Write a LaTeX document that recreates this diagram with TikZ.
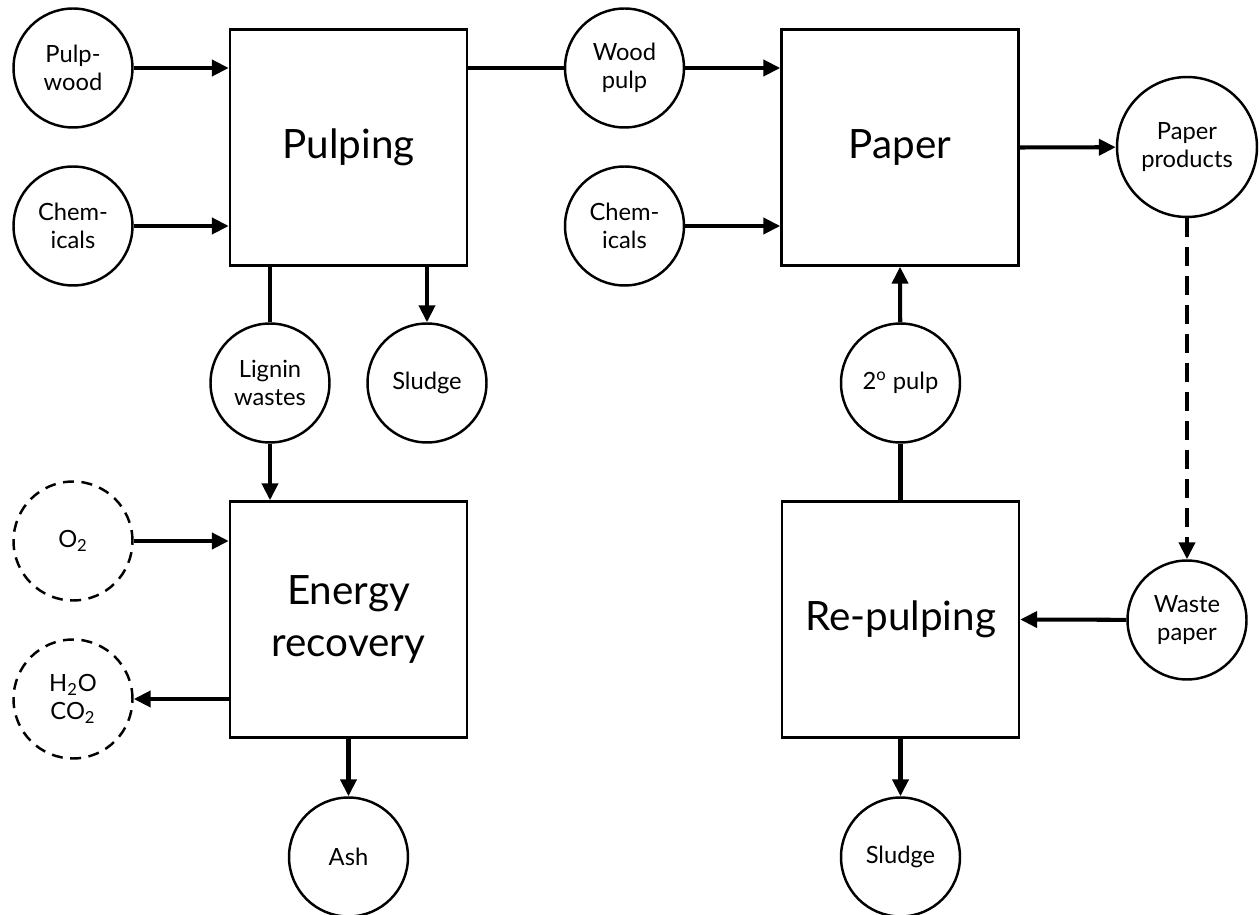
\documentclass[tikz,border=0pt]{standalone}
\usepackage{fontspec}
\setmainfont{Lato}
\usetikzlibrary{arrows.meta}

\tikzset{
  procbox/.style={draw, line width=1.4pt, minimum width=4.74cm, minimum height=4.72cm,
    inner sep=0pt, font=\fontsize{23}{30}\selectfont, align=center},
  stream/.style={draw, circle, line width=1.4pt, minimum size=2.38cm, inner sep=0pt,
    font=\fontsize{13.5}{16}\selectfont, align=center},
  gasstream/.style={stream, dash pattern=on 0.22cm off 0.15cm},
  link/.style={line width=2.3pt},
  flow/.style={link, -{Triangle[length=0.34cm,width=0.32cm]}},
}

\begin{document}
\begin{tikzpicture}[x=0.02cm, y=-0.02cm]
  \useasboundingbox (0,0) rectangle (1259,915);

  % process boxes
  \node[procbox] (pulping) at (348.5,147.5) {Pulping};
  \node[procbox] (paper)   at (900,147.5) {Paper};
  \node[procbox] (energy)  at (348.5,619.5) {Energy\\recovery};
  \node[procbox] (repulp)  at (900.5,619.5) {Re-pulping};

  % streams
  \node[stream] (pulpwood) at (73,68)    {Pulp-\\wood};
  \node[stream] (chemA)    at (73,226)   {Chem-\\icals};
  \node[stream] (woodpulp) at (624.5,68) {Wood\\pulp};
  \node[stream] (chemB)    at (624.5,226) {Chem-\\icals};
  \node[stream, minimum size=2.8cm] (products) at (1187,147) {Paper\\products};
  \node[stream] (lignin)   at (270,383)  {Lignin\\wastes};
  \node[stream] (sludgeA)  at (427,383)  {Sludge};
  \node[stream] (secpulp)  at (900.5,383) {2\textsuperscript{o} pulp};
  \node[stream] (waste)    at (1187,620) {Waste\\paper};
  \node[stream] (ash)      at (348.5,857) {Ash};
  \node[stream] (sludgeB)  at (900.5,857) {Sludge};
  \node[gasstream] (oxygen)  at (73,541) {O\textsubscript{2}};
  \node[gasstream] (exhaust) at (73,699) {H\textsubscript{2}O\\CO\textsubscript{2}};

  % pulping line
  \draw[flow] (pulpwood) -- (pulpwood -| pulping.west);
  \draw[flow] (chemA) -- (chemA -| pulping.west);
  \draw[link] (pulping.east |- woodpulp) -- (woodpulp);
  \draw[link] (pulping.south -| lignin) -- (lignin);
  \draw[flow] (pulping.south -| sludgeA) -- (sludgeA);

  % energy recovery
  \draw[flow] (lignin) -- (lignin |- energy.north);
  \draw[flow] (oxygen) -- (oxygen -| energy.west);
  \draw[flow] (energy.west |- exhaust) -- (exhaust);
  \draw[flow] (energy) -- (ash);

  % paper making and recycling
  \draw[flow] (woodpulp) -- (woodpulp -| paper.west);
  \draw[flow] (chemB) -- (chemB -| paper.west);
  \draw[flow] (paper.east) -- (products);
  \draw[flow, dash pattern=on 0.38cm off 0.2cm] (products) -- (waste);
  \draw[flow] (waste) -- (repulp.east);
  \draw[link] (repulp.north) -- (secpulp);
  \draw[flow] (secpulp) -- (paper.south);
  \draw[flow] (repulp.south) -- (sludgeB);
\end{tikzpicture}
\end{document}
